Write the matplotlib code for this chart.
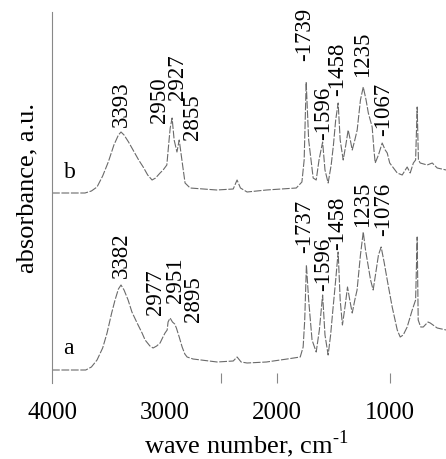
import matplotlib
matplotlib.use("Agg")
import matplotlib.pyplot as plt
from matplotlib.ticker import FixedLocator

plt.rcParams['font.family'] = ['Liberation Serif', 'DejaVu Serif']
plt.rcParams['mathtext.fontset'] = 'custom'
plt.rcParams['mathtext.rm'] = 'Liberation Serif'

# spectrum b (upper trace), wave number cm-1 / absorbance a.u. (offset included)
wn_b = [4000, 3707, 3650, 3600, 3550, 3500, 3450, 3410, 3387, 3360, 3320, 3280,
        3230, 3190, 3150, 3111, 3080, 3040, 3013, 2980, 2960, 2950, 2933, 2915,
        2890, 2870, 2840, 2818, 2773, 2537, 2390, 2356, 2326, 2267, 2095, 1830,
        1780, 1760, 1742, 1720, 1680, 1653, 1628, 1596, 1575, 1547, 1520, 1500,
        1480, 1458, 1440, 1413, 1390, 1369, 1350, 1333, 1310, 1289, 1260, 1235,
        1210, 1190, 1156, 1140, 1129, 1100, 1067, 1040, 1022, 1000, 933, 889,
        845, 818, 790, 770, 756, 745, 729, 667, 622, 578, 498]
ab_b = [1.90, 1.90, 1.92, 1.96, 2.07, 2.21, 2.38, 2.48, 2.51, 2.48, 2.41, 2.33,
        2.23, 2.16, 2.08, 2.03, 2.05, 2.10, 2.13, 2.18, 2.43, 2.55, 2.65, 2.43,
        2.31, 2.43, 2.18, 2.00, 1.95, 1.93, 1.94, 2.03, 1.95, 1.91, 1.93, 1.95,
        2.01, 2.23, 3.01, 2.43, 2.05, 2.03, 2.23, 2.41, 2.13, 2.00, 2.18, 2.38,
        2.63, 2.80, 2.43, 2.23, 2.38, 2.53, 2.43, 2.33, 2.43, 2.53, 2.83, 2.96,
        2.83, 2.70, 2.56, 2.33, 2.20, 2.28, 2.40, 2.33, 2.30, 2.20, 2.10, 2.08,
        2.16, 2.10, 2.20, 2.23, 2.76, 2.23, 2.20, 2.18, 2.20, 2.15, 2.13]

# spectrum a (lower trace)
wn_a = [4000, 3700, 3650, 3600, 3550, 3511, 3470, 3440, 3410, 3387, 3360, 3324,
        3290, 3244, 3200, 3173, 3130, 3102, 3070, 3040, 3010, 2996, 2977, 2969,
        2951, 2930, 2910, 2895, 2870, 2844, 2820, 2800, 2747, 2533, 2390, 2356,
        2320, 2267, 2095, 1911, 1795, 1769, 1755, 1740, 1720, 1690, 1653, 1625,
        1596, 1575, 1547, 1525, 1505, 1480, 1458, 1440, 1420, 1395, 1375, 1355,
        1333, 1310, 1290, 1260, 1235, 1215, 1200, 1170, 1147, 1120, 1100, 1076,
        1050, 1022, 978, 933, 907, 880, 845, 800, 770, 756, 747, 725, 702, 660,
        640, 578, 498]
ab_a = [0.13, 0.13, 0.16, 0.23, 0.35, 0.50, 0.70, 0.83, 0.94, 0.98, 0.93, 0.83,
        0.71, 0.60, 0.50, 0.43, 0.37, 0.35, 0.37, 0.40, 0.47, 0.50, 0.53, 0.61,
        0.65, 0.61, 0.59, 0.55, 0.46, 0.36, 0.29, 0.26, 0.24, 0.21, 0.22, 0.26,
        0.21, 0.20, 0.21, 0.24, 0.26, 0.36, 0.63, 1.18, 0.83, 0.43, 0.31, 0.53,
        0.88, 0.48, 0.28, 0.48, 0.73, 1.03, 1.31, 0.83, 0.58, 0.78, 0.96, 0.83,
        0.70, 0.83, 0.93, 1.28, 1.51, 1.33, 1.23, 1.03, 0.93, 1.13, 1.28, 1.36,
        1.21, 1.03, 0.76, 0.53, 0.46, 0.48, 0.56, 0.73, 0.83, 1.46, 0.63, 0.56,
        0.56, 0.61, 0.60, 0.55, 0.53]

# peak labels: text, x (cm-1), y (a.u.) of the label foot
peaks_b = [("3393", 3387, 2.56), ("2950", 3045, 2.60), ("2927", 2885, 2.83),
           ("2855", 2750, 2.43), ("-1739", 1760, 3.22), ("-1596", 1591, 2.43),
           ("-1458", 1467, 2.87), ("1235", 1244, 3.06), ("-1067", 1058, 2.47)]
peaks_a = [("3382", 3387, 1.05), ("2977", 3080, 0.68), ("2951", 2907, 0.80),
           ("2895", 2740, 0.61), ("-1737", 1760, 1.30), ("-1596", 1591, 0.92),
           ("-1458", 1467, 1.33), ("1235", 1244, 1.56), ("-1076", 1058, 1.47)]

fig = plt.figure(figsize=(4.46, 4.59), dpi=100)
ax = fig.add_axes([52 / 446, 76 / 459, 394 / 446, 371 / 459])

line_kw = dict(color='#6a6a6a', lw=0.8, ls=(0, (7, 1.5)))
ax.plot(wn_b, ab_b, **line_kw)
ax.plot(wn_a, ab_a, **line_kw)

for txt, x, y in peaks_b + peaks_a:
    ax.text(x, y, txt, rotation=90, ha='center', va='bottom', fontsize=16.5)

ax.text(3840, 2.10, "b", ha='center', va='center', fontsize=17)
ax.text(3858, 0.35, "a", ha='center', va='center', fontsize=17)

ax.set_xlim(4000, 500)
ax.set_ylim(0, 3.71)

for s in ['top', 'right', 'bottom']:
    ax.spines[s].set_visible(False)
ax.spines['left'].set_color('#888888')
ax.spines['left'].set_linewidth(0.8)

ax.set_yticks([])
ax.xaxis.remove_overlapping_locs = False
ax.xaxis.set_major_locator(FixedLocator([4000, 3000, 2000, 1000]))
ax.xaxis.set_minor_locator(FixedLocator([2500, 2000, 1000]))
ax.tick_params(axis='x', which='major', length=0, pad=14, labelsize=18)
ax.tick_params(axis='x', which='minor', direction='in', length=7,
               width=0.8, color='#888888')

fig.text(246 / 446, 1 - 444 / 459, r"wave number, cm$^{\text{-}1}$",
         ha='center', va='center', fontsize=19)
fig.text(27 / 446, 1 - 188 / 459, "absorbance, a.u.", rotation=90,
         ha='center', va='center', fontsize=19)

fig.savefig("out.png", dpi=100)
